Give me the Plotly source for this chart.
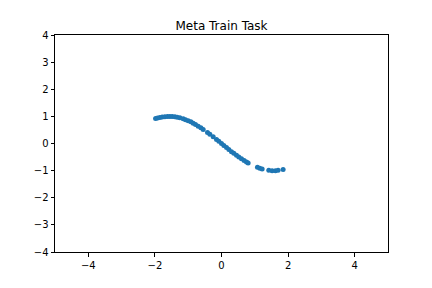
import plotly.graph_objects as go

x_vals = [-1.98, -1.92, -1.85, -1.78, -1.70, -1.62, -1.55, -1.48, -1.40, -1.33,
          -1.25, -1.15, -1.08, -1.00, -0.92, -0.85, -0.78, -0.70, -0.62, -0.55,
          -0.42, -0.35, -0.25, -0.15, -0.08, 0.00, 0.07, 0.15, 0.22, 0.30,
          0.37, 0.45, 0.52, 0.60, 0.68, 0.75, 0.80, 1.08, 1.15, 1.22,
          1.42, 1.52, 1.62, 1.70, 1.85]
y_vals = [0.92, 0.94, 0.96, 0.98, 0.99, 1.00, 1.00, 1.00, 0.99, 0.97,
          0.95, 0.91, 0.88, 0.84, 0.80, 0.75, 0.70, 0.64, 0.58, 0.52,
          0.41, 0.34, 0.25, 0.15, 0.08, 0.00, -0.07, -0.15, -0.22, -0.30,
          -0.36, -0.43, -0.50, -0.56, -0.63, -0.68, -0.72, -0.88, -0.91, -0.94,
          -0.99, -1.00, -1.00, -0.99, -0.96]

title_text = "Meta Train Task"
x_ticks = [-4, -2, 0, 2, 4]
y_ticks = [-4, -3, -2, -1, 0, 1, 2, 3, 4]

fig = go.Figure()
fig.add_trace(go.Scatter(
    x=x_vals, y=y_vals, mode="markers",
    marker=dict(color="#1f77b4", size=5, line=dict(width=0)),
    showlegend=False,
))

axis_common = dict(
    showgrid=False, zeroline=False, showline=True, linecolor="black",
    linewidth=1, mirror=True, ticks="outside", ticklen=3.5, tickwidth=1,
    tickcolor="black", tickfont=dict(family="DejaVu Sans", size=10, color="black"),
)

fig.update_layout(
    width=432, height=288,
    margin=dict(l=54.5, r=43.5, t=35, b=36),
    plot_bgcolor="white", paper_bgcolor="white",
    title=dict(text=title_text, x=0.5, xanchor="center", xref="paper",
               y=1, yref="paper", yanchor="bottom", pad=dict(b=5),
               font=dict(family="DejaVu Sans", size=12, color="black")),
    xaxis=dict(range=[-5, 5], tickvals=x_ticks, **axis_common),
    yaxis=dict(range=[-4, 4], tickvals=y_ticks, **axis_common),
)

fig.write_html("out.html")
